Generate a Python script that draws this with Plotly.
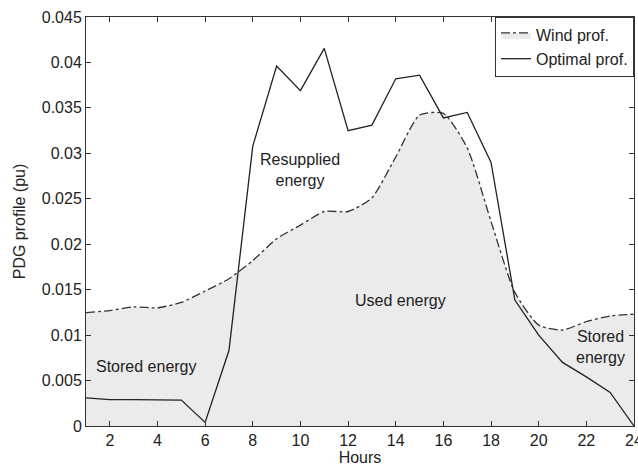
import plotly.graph_objects as go

hours = list(range(1, 25))
wind_prof = [0.01247, 0.0127, 0.0131, 0.0130, 0.0136, 0.01485, 0.0162, 0.0182,
             0.0206, 0.0221, 0.0236, 0.0236, 0.0251, 0.0296, 0.0342, 0.0344,
             0.0306, 0.0225, 0.0147, 0.0111, 0.01056, 0.01148, 0.0121, 0.0123]
optimal_prof = [0.0031, 0.0029, 0.0029, 0.0029, 0.00285, 0.0004, 0.0083, 0.0308,
                0.0396, 0.0369, 0.04155, 0.0325, 0.0331, 0.0382, 0.0386, 0.0339,
                0.0345, 0.0290, 0.01386, 0.0100, 0.0070, 0.0054, 0.0037, 0.0]
x_ticks = [2, 4, 6, 8, 10, 12, 14, 16, 18, 20, 22, 24]
y_ticks = [0, 0.005, 0.01, 0.015, 0.02, 0.025, 0.03, 0.035, 0.04, 0.045]
y_ticktext = ["0", "0.005", "0.01", "0.015", "0.02", "0.025", "0.03", "0.035", "0.04", "0.045"]

labels = [
    ("Resupplied<br>energy", 10.0, 0.0282),
    ("Used energy", 14.2, 0.0138),
    ("Stored energy", 3.55, 0.0065),
    ("Stored<br>energy", 22.6, 0.0087),
]

FONT = "Liberation Sans, Arial"
TXT = "#222222"

fig = go.Figure()
fig.add_trace(go.Scatter(
    x=hours, y=wind_prof, name="Wind prof.", mode="lines",
    line=dict(color="#333333", width=1.3, dash="dashdot", shape="spline", smoothing=0.6),
    fill="tozeroy", fillcolor="#ebebeb",
))
fig.add_trace(go.Scatter(
    x=hours, y=optimal_prof, name="Optimal prof.", mode="lines",
    line=dict(color="#222222", width=1.3),
))

for text, xv, yv in labels:
    fig.add_annotation(x=xv, y=yv, text=text, showarrow=False,
                       font=dict(family=FONT, size=16, color=TXT))

axis_common = dict(showgrid=False, zeroline=False, showline=True, linecolor="#333333",
                   linewidth=1, mirror="ticks", ticks="inside", ticklen=5,
                   tickcolor="#333333", ticklabeloverflow="allow", automargin=False,
                   tickfont=dict(family=FONT, size=16, color=TXT))

fig.update_xaxes(range=[1, 24], tickvals=x_ticks,
                 title=dict(text="Hours", standoff=4,
                            font=dict(family=FONT, size=16, color=TXT)),
                 **axis_common)
fig.update_yaxes(range=[0, 0.045], tickvals=y_ticks, ticktext=y_ticktext,
                 title=dict(text="PDG profile (pu)", standoff=12,
                            font=dict(family=FONT, size=16, color=TXT)),
                 **axis_common)

fig.update_layout(
    width=638, height=466,
    margin=dict(l=86, r=4, t=17, b=40),
    paper_bgcolor="white", plot_bgcolor="white",
    showlegend=True,
    legend=dict(x=1, y=1, xanchor="right", yanchor="top",
                bordercolor="#333333", borderwidth=1, bgcolor="white",
                font=dict(family=FONT, size=16, color=TXT),
                tracegroupgap=0, itemwidth=30),
)

fig.write_html("out.html")
